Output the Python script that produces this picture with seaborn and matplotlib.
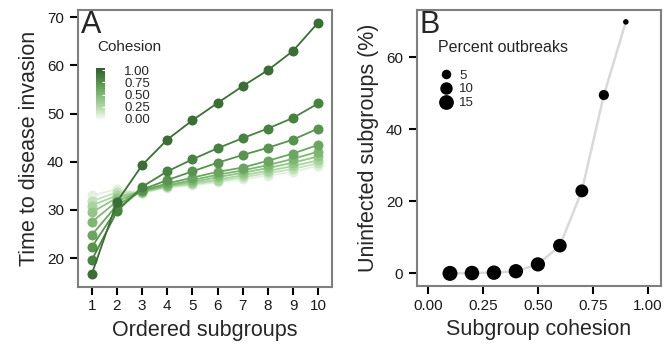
import numpy as np
import pandas as pd
import matplotlib
matplotlib.use("Agg")
import matplotlib.pyplot as plt
from matplotlib.colors import LinearSegmentedColormap
from matplotlib.lines import Line2D
import seaborn as sns

# ---------------- data ----------------
subgroups = [1, 2, 3, 4, 5, 6, 7, 8, 9, 10]
cohesion_levels = [0.1, 0.2, 0.3, 0.4, 0.5, 0.6, 0.7, 0.8, 0.9]
time_c01 = [33.0, 34.3, 33.5, 34.6, 35.1, 35.7, 36.4, 37.1, 37.9, 39.2]
time_c02 = [31.8, 33.7, 33.6, 34.8, 35.3, 36.0, 36.8, 37.6, 38.5, 39.7]
time_c03 = [30.9, 33.0, 33.7, 34.9, 35.5, 36.3, 37.2, 38.1, 39.1, 40.3]
time_c04 = [29.5, 32.5, 33.8, 35.0, 35.8, 36.8, 37.7, 38.7, 39.8, 41.1]
time_c05 = [27.5, 31.8, 33.9, 35.1, 36.2, 37.3, 38.2, 39.3, 40.6, 42.1]
time_c06 = [24.8, 31.0, 34.0, 35.5, 36.7, 37.9, 38.8, 40.2, 41.7, 43.5]
time_c07 = [22.3, 30.2, 34.2, 36.2, 38.0, 39.8, 41.4, 42.9, 44.6, 46.9]
time_c08 = [19.6, 29.7, 34.8, 38.0, 40.5, 42.8, 44.9, 46.9, 49.1, 52.1]
time_c09 = [16.7, 31.7, 39.3, 44.6, 48.6, 52.2, 55.7, 59.0, 63.0, 68.9]

cohesion_b = [0.1, 0.2, 0.3, 0.4, 0.5, 0.6, 0.7, 0.8, 0.9]
uninfected_pct = [0.0, 0.1, 0.2, 0.6, 2.5, 7.7, 22.9, 49.5, 69.8]
outbreak_pct = [15.5, 14.5, 14.2, 14.0, 13.8, 12.5, 11.0, 6.0, 0.3]
legend_sizes = [5, 10, 15]
colorbar_ticks = [0.0, 0.25, 0.5, 0.75, 1.0]

series = [time_c01, time_c02, time_c03, time_c04, time_c05,
          time_c06, time_c07, time_c08, time_c09]
df_a = pd.DataFrame({
    "subgroup": np.tile(subgroups, len(cohesion_levels)),
    "cohesion": np.repeat(cohesion_levels, len(subgroups)),
    "time": np.concatenate(series),
})
df_b = pd.DataFrame({"cohesion": cohesion_b, "uninfected": uninfected_pct,
                     "outbreaks": outbreak_pct})

# ---------------- style ----------------
sns.set_style("ticks")
plt.rcParams["font.family"] = ["Liberation Sans", "DejaVu Sans"]

cmap = LinearSegmentedColormap.from_list(
    "coh", [(0.0, "#ffffff"), (0.25, "#b4dbaa"), (0.5, "#7cb870"),
            (0.75, "#4f8c46"), (1.0, "#2c5a28")])
palette = {c: cmap(c) for c in cohesion_levels}

W, H = 664, 345
fig = plt.figure(figsize=(W / 100, H / 100), dpi=100)
axA = fig.add_axes([78 / W, 1 - 287 / H, (332 - 78) / W, (287 - 10) / H])
axB = fig.add_axes([417 / W, 1 - 286 / H, (661 - 417) / W, (286 - 10) / H])

TICK_FS = 11
LABEL_FS = 15.5

# ---------------- panel A ----------------
sns.lineplot(data=df_a, x="subgroup", y="time", hue="cohesion",
             palette=palette, marker="o", markersize=7.2, markeredgewidth=0,
             linewidth=1.3, legend=False, ax=axA, zorder=3)
axA.set_xlim(0.45, 10.55)
axA.set_ylim(14.0, 71.5)
axA.set_xticks(subgroups)
axA.set_yticks([20, 30, 40, 50, 60, 70])
axA.set_xlabel("Ordered subgroups", fontsize=LABEL_FS, labelpad=5)
axA.set_ylabel("Time to disease invasion", fontsize=LABEL_FS, labelpad=5)
axA.text(0.012, 1.0, "A", transform=axA.transAxes, fontsize=22,
         va="top", ha="left")

# colour bar legend
cax = fig.add_axes([96 / W, 1 - 121 / H, 9 / W, 53 / H])
grad = np.linspace(0, 1, 200).reshape(-1, 1)
cax.imshow(grad, extent=[0, 1, -0.05, 1.05], aspect="auto", cmap=cmap,
           origin="lower", vmin=0, vmax=1)
cax.set_xlim(0, 1)
cax.set_ylim(-0.05, 1.05)
cax.set_xticks([])
cax.yaxis.tick_right()
cax.set_yticks(colorbar_ticks)
cax.set_yticklabels([f"{t:.2f}" for t in colorbar_ticks], fontsize=9.5)
cax.tick_params(axis="y", direction="in", length=2, width=0.8,
                color="white", pad=14)
for s in cax.spines.values():
    s.set_visible(False)
fig.text(97 / W, 1 - 47 / H, "Cohesion", fontsize=11, va="center", ha="left")

# ---------------- panel B ----------------
sns.lineplot(data=df_b, x="cohesion", y="uninfected", color="#d9d9d9",
             linewidth=1.8, ax=axB, zorder=2, legend=False)
s_min, s_max = 14.0, 119.6
s_norm = (0.0, 16.0)
sns.scatterplot(data=df_b, x="cohesion", y="uninfected", size="outbreaks",
                sizes=(s_min, s_max), size_norm=s_norm, color="black",
                edgecolor="none", legend=False, ax=axB, zorder=3)
axB.set_xlim(-0.05, 1.06)
axB.set_ylim(-3.5, 73.1)
axB.set_xticks([0, 0.25, 0.5, 0.75, 1.0])
axB.set_xticklabels(["0.00", "0.25", "0.50", "0.75", "1.00"])
axB.set_yticks([0, 20, 40, 60])
axB.set_xlabel("Subgroup cohesion", fontsize=LABEL_FS, labelpad=5)
axB.set_ylabel("Uninfected subgroups (%)", fontsize=LABEL_FS, labelpad=5)
axB.text(0.012, 1.0, "B", transform=axB.transAxes, fontsize=22,
         va="top", ha="left")
axB.text((438 - 417) / 244, (286 - 48) / 276, "Percent outbreaks",
         transform=axB.transAxes, fontsize=11.5, va="center", ha="left")


def area(v):
    return s_min + (v - s_norm[0]) / (s_norm[1] - s_norm[0]) * (s_max - s_min)


handles = [Line2D([], [], linestyle="none", marker="o", color="black",
                  markeredgewidth=0, markersize=np.sqrt(area(v)))
           for v in legend_sizes]
leg = axB.legend(handles, [str(v) for v in legend_sizes],
                 loc="center left",
                 bbox_to_anchor=((438.5 - 417) / 244, (286 - 89.3) / 276),
                 frameon=False, fontsize=9.5, handlelength=1.1,
                 handletextpad=0.45, labelspacing=0.12, borderpad=0,
                 borderaxespad=0)

for ax in (axA, axB):
    ax.tick_params(axis="both", direction="out", length=5.5, width=1.5,
                   color="black", labelsize=TICK_FS, labelcolor="#1a1a1a")
    ax.tick_params(axis="y", pad=4.5)
    ax.tick_params(axis="x", pad=3.5)
    for s in ax.spines.values():
        s.set_visible(True)
        s.set_color("#7f7f7f")
        s.set_linewidth(1.5)

fig.savefig("out.png", dpi=100)
